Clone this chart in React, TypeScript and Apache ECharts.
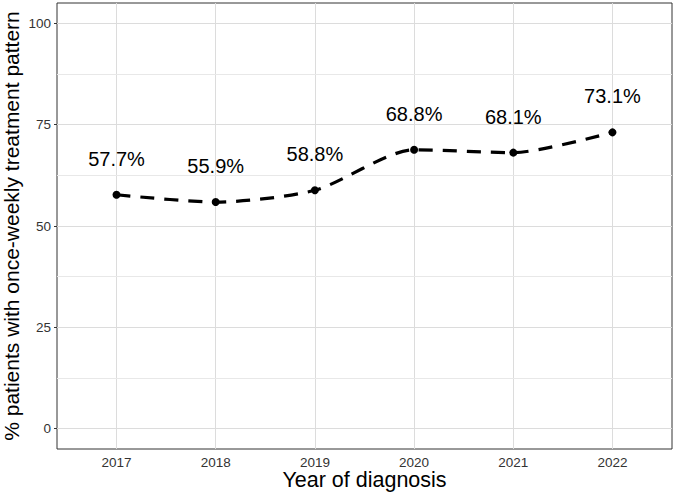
import React, { useEffect, useRef } from "react";
import * as echarts from "echarts";

const years = [2017, 2018, 2019, 2020, 2021, 2022];
const percentages = [57.7, 55.9, 58.8, 68.8, 68.1, 73.1];
const yTicks = [0, 25, 50, 75, 100];
const yMinorGrid = [12.5, 37.5, 62.5, 87.5];

const FONT = "Liberation Sans, Arial, Helvetica, sans-serif";

export default function App() {
  const ref = useRef<HTMLDivElement>(null);
  useEffect(() => {
    if (!ref.current) return;
    const chart = echarts.init(ref.current, undefined, { renderer: "svg" });
    const gridColor = "#dcdcdc";
    chart.setOption({
      animation: false,
      backgroundColor: "#ffffff",
      grid: {
        left: 57,
        right: 3,
        top: 3,
        bottom: 46,
        containLabel: false,
        outerBoundsMode: "none",
        show: true,
        borderColor: "#333333",
        borderWidth: 1,
        backgroundColor: "transparent",
      },
      xAxis: {
        type: "value",
        min: 2016.4,
        max: 2022.6,
        name: "Year of diagnosis",
        nameLocation: "middle",
        nameGap: 20,
        nameMoveOverlap: false,
        nameTextStyle: { fontFamily: FONT, fontSize: 21.5, color: "#000" },
        axisLine: { show: false },
        splitLine: { show: false },
        axisTick: {
          show: true,
          customValues: years,
          length: 3,
          lineStyle: { color: "#333" },
        },
        axisLabel: {
          customValues: years,
          margin: 6,
          fontFamily: FONT,
          fontSize: 13.5,
          color: "#333",
          formatter: (v: number) => String(v),
        },
      },
      yAxis: {
        type: "value",
        min: -5,
        max: 105,
        name: "% patients with once-weekly treatment pattern",
        nameLocation: "middle",
        nameGap: 35,
        nameMoveOverlap: false,
        nameTextStyle: { fontFamily: FONT, fontSize: 21, lineHeight: 21, color: "#000" },
        axisLine: { show: false },
        splitLine: { show: false },
        axisTick: {
          show: true,
          customValues: yTicks,
          length: 3,
          lineStyle: { color: "#333" },
        },
        axisLabel: {
          customValues: yTicks,
          margin: 6,
          fontFamily: FONT,
          fontSize: 13.5,
          color: "#333",
        },
      },
      series: [
        {
          type: "line",
          data: [],
          z: 1,
          silent: true,
          markLine: {
            silent: true,
            symbol: "none",
            label: { show: false },
            animation: false,
            lineStyle: { color: gridColor, width: 1, type: "solid" },
            emphasis: { disabled: true },
            data: [
              ...years.map((y) => ({ xAxis: y })),
              ...yTicks.map((v) => ({ yAxis: v })),
              ...yMinorGrid.map((v) => ({ yAxis: v, lineStyle: { color: "#e8e8e8", width: 1 } })),
            ],
          },
        },
        {
          type: "line",
          z: 5,
          data: years.map((y, i) => [y, percentages[i]]),
          smooth: 0.25,
          symbol: "circle",
          symbolSize: 8,
          itemStyle: { color: "#000" },
          lineStyle: { color: "#000", width: 3.2, type: [14, 10] },
          label: {
            show: true,
            position: "top",
            distance: 22,
            fontFamily: FONT,
            fontSize: 20,
            color: "#000",
            formatter: (p: any) => p.value[1].toFixed(1) + "%",
          },
        },
      ],
    });
    return () => chart.dispose();
  }, []);
  return (
    <div
      ref={ref}
      style={{ position: "fixed", left: 0, top: 0, width: 675, height: 495 }}
    />
  );
}
